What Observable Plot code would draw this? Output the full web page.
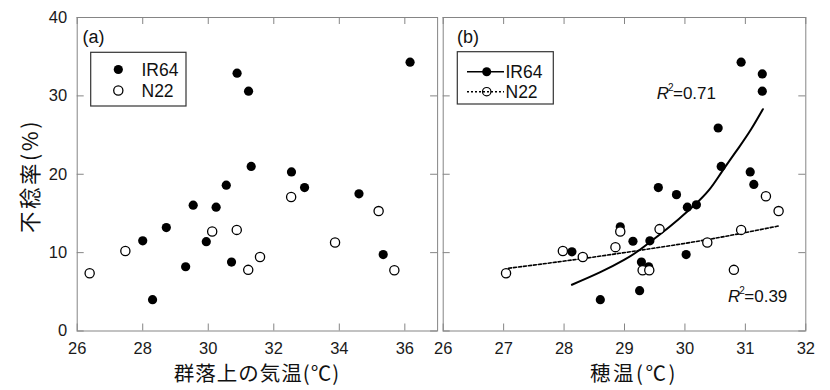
<!DOCTYPE html>
<html>
<head>
<meta charset="utf-8">
<script src="https://cdn.jsdelivr.net/npm/d3@7"></script>
<script src="https://cdn.jsdelivr.net/npm/@observablehq/plot@0.6"></script>
<style>
  html, body { margin: 0; padding: 0; background: #fff; }
  #chart { position: relative; width: 830px; height: 390px; overflow: hidden; }
  #chart .panel { position: absolute; top: 0; }
  #overlay { position: absolute; left: 0; top: 0; pointer-events: none; }
</style>
</head>
<body>
<div id="chart"></div>
<script>
// ---------- data ----------
// Panel (a): canopy air temperature (°C) vs sterility (%)
const aIR64x = [36.16, 30.88, 31.23, 31.31, 32.54, 30.55, 32.94, 34.6, 29.54, 30.24, 28.72, 28.0, 29.94, 30.71, 29.31, 35.34, 28.3];
const aIR64y = [34.3, 32.9, 30.6, 21.0, 20.3, 18.6, 18.3, 17.5, 16.05, 15.8, 13.2, 11.5, 11.4, 8.8, 8.2, 9.75, 4.0];
const aN22x = [32.53, 35.2, 30.12, 30.87, 27.47, 33.87, 31.58, 31.22, 35.68, 26.38];
const aN22y = [17.1, 15.3, 12.7, 12.9, 10.2, 11.3, 9.45, 7.8, 7.75, 7.37];

// Panel (b): panicle temperature (°C) vs sterility (%)
const bIR64x = [30.93, 31.28, 31.28, 30.55, 30.6, 31.08, 31.14, 29.56, 29.86, 30.04, 30.19, 28.93, 29.14, 29.42, 28.13, 30.02, 29.28, 29.4, 29.25, 28.6];
const bIR64y = [34.3, 32.8, 30.6, 25.9, 21.0, 20.3, 18.7, 18.3, 17.4, 15.8, 16.1, 13.3, 11.45, 11.5, 10.1, 9.75, 8.8, 8.2, 5.15, 4.0];
const bN22x = [31.34, 31.55, 29.58, 28.93, 30.93, 28.85, 27.98, 28.31, 30.37, 29.3, 29.41, 30.81, 27.04];
const bN22y = [17.2, 15.3, 13.0, 12.7, 12.9, 10.7, 10.2, 9.45, 11.3, 7.75, 7.75, 7.8, 7.37];

// fitted curves
const fitIR64x = [28.13, 28.6, 29.0, 29.26, 29.6, 29.9, 30.15, 30.4, 30.61, 30.9, 31.1, 31.29];
const fitIR64y = [5.9, 7.5, 9.1, 10.4, 12.4, 14.3, 16.0, 18.0, 20.3, 23.5, 25.8, 28.3];
const fitN22x = [27.08, 28.27, 29.3, 30.4, 31.55];
const fitN22y = [8.0, 9.2, 10.35, 11.7, 13.4];

// R² annotations
const r2Labels = ["0.71", "0.39"];
const r2x = [29.54, 30.72];
const r2y = [30.3, 4.4];

// ticks
const yTicks = [0, 10, 20, 30, 40];
const aXTicks = [26, 28, 30, 32, 34, 36];
const bXTicks = [26, 27, 28, 29, 30, 31, 32];

// labels
const yTitle = "不稔率(%)";
const aXTitle = "群落上の気温(℃)";
const bXTitle = "穂温(℃)";
const series = ["IR64", "N22"];

// ---------- helpers ----------
const zip = (xs, ys) => xs.map((x, i) => ({x, y: ys[i]}));
const A_IR64 = zip(aIR64x, aIR64y), A_N22 = zip(aN22x, aN22y);
const B_IR64 = zip(bIR64x, bIR64y), B_N22 = zip(bN22x, bN22y);
const FIT_IR64 = zip(fitIR64x, fitIR64y), FIT_N22 = zip(fitN22x, fitN22y);
const R2 = r2Labels.map((t, i) => ({t, x: r2x[i], y: r2y[i]}));

const FRAME = "#858585";
const TICKLEN = 7;
const H = 390, MT = 17, MB = 59.5;
const FH = H - MT - MB;
const numFont = "'Liberation Sans', Arial, sans-serif";
const cjkFont = "'Noto Sans CJK JP', sans-serif";
const intFmt = d3.format("d");

function inwardTicks(xt, fw) {
  return [
    Plot.tickX(xt, {x: d => d, stroke: FRAME, insetTop: FH - TICKLEN}),
    Plot.tickX(xt, {x: d => d, stroke: FRAME, insetBottom: FH - TICKLEN}),
    Plot.tickY(yTicks, {y: d => d, stroke: FRAME, insetRight: fw - TICKLEN}),
    Plot.tickY(yTicks, {y: d => d, stroke: FRAME, insetLeft: fw - TICKLEN})
  ];
}

// ---------- panel (a) ----------
const aW = 440, aML = 76.7, aMR = 2.9;
const plotA = Plot.plot({
  width: aW, height: H,
  marginLeft: aML, marginRight: aMR, marginTop: MT, marginBottom: MB,
  x: {domain: [26, 37]},
  y: {domain: [0, 40]},
  style: {background: "transparent", overflow: "visible", fontFamily: numFont, color: "#1a1a1a"},
  marks: [
    ...inwardTicks(aXTicks, aW - aML - aMR),
    Plot.frame({stroke: FRAME}),
    Plot.axisX({ticks: aXTicks, tickFormat: intFmt, tickSize: 0, tickPadding: 11, fontSize: 16.5, label: null}),
    Plot.axisY({ticks: yTicks, tickFormat: intFmt, tickSize: 0, tickPadding: 10, fontSize: 16.5, label: null}),
    Plot.dot(A_IR64, {x: "x", y: "y", r: 4.6, fill: "#000", stroke: "none"}),
    Plot.dot(A_N22, {x: "x", y: "y", r: 4.6, fill: "#fff", stroke: "#000", strokeWidth: 1.3})
  ]
});

// ---------- panel (b) ----------
const bLeft = 420, bW = 410, bML = 22.7, bMR = 24.7;
const plotB = Plot.plot({
  width: bW, height: H,
  marginLeft: bML, marginRight: bMR, marginTop: MT, marginBottom: MB,
  x: {domain: [26, 32]},
  y: {domain: [0, 40], axis: null},
  style: {background: "transparent", overflow: "visible", fontFamily: numFont, color: "#1a1a1a"},
  marks: [
    ...inwardTicks(bXTicks, bW - bML - bMR),
    Plot.frame({stroke: FRAME}),
    Plot.axisX({ticks: bXTicks, tickFormat: intFmt, tickSize: 0, tickPadding: 11, fontSize: 16.5, label: null}),
    Plot.line(FIT_N22, {x: "x", y: "y", stroke: "#000", strokeWidth: 1.6, strokeDasharray: "3,2", curve: "natural"}),
    Plot.line(FIT_IR64, {x: "x", y: "y", stroke: "#000", strokeWidth: 2, curve: "natural"}),
    Plot.dot(B_IR64, {x: "x", y: "y", r: 4.6, fill: "#000", stroke: "none"}),
    Plot.dot(B_N22, {x: "x", y: "y", r: 4.6, fill: "#fff", stroke: "#000", strokeWidth: 1.3})
  ]
});

const chart = document.getElementById("chart");
plotA.classList.add("panel"); plotA.style.left = "0px";
plotB.classList.add("panel"); plotB.style.left = bLeft + "px";
chart.appendChild(plotA);
chart.appendChild(plotB);

// ---------- overlay: legends, panel tags, axis titles, R² ----------
const svg = d3.select(chart).append("svg").attr("id", "overlay").attr("width", 830).attr("height", 390);

function txt(x, y, s, opts = {}) {
  return svg.append("text").attr("x", x).attr("y", y).attr("dominant-baseline", "central")
    .attr("font-family", opts.font || numFont).attr("font-size", opts.size || 17)
    .attr("text-anchor", opts.anchor || "start").attr("fill", "#111")
    .attr("letter-spacing", opts.spacing || null)
    .attr("transform", opts.transform || null).text(s);
}

// R² labels positioned through panel (b)'s scales
const sxB = plotB.scale("x"), syB = plotB.scale("y");
R2.forEach(d => {
  const t = svg.append("text")
    .attr("x", bLeft + sxB.apply(d.x)).attr("y", syB.apply(d.y) + 6)
    .attr("font-family", numFont).attr("font-size", 17).attr("fill", "#111");
  t.append("tspan").attr("font-style", "italic").text("R");
  t.append("tspan").attr("font-size", 10).attr("dx", -1).attr("dy", -8).text("2");
  t.append("tspan").attr("dy", 8).attr("dx", -0.5).text("=" + d.t);
});

// panel tags
txt(82.5, 37, "(a)", {size: 18});
txt(457, 37, "(b)", {size: 18});

// legend (a)
svg.append("rect").attr("x", 90.7).attr("y", 52.3).attr("width", 95.3).attr("height", 53.7)
  .attr("fill", "#fff").attr("stroke", "#333").attr("stroke-width", 1.2);
svg.append("circle").attr("cx", 118.3).attr("cy", 69.5).attr("r", 4.6).attr("fill", "#000");
svg.append("circle").attr("cx", 118.3).attr("cy", 90.5).attr("r", 4.6).attr("fill", "#fff").attr("stroke", "#000").attr("stroke-width", 1.3);
txt(141.5, 70, series[0], {size: 17.5});
txt(141.5, 91, series[1], {size: 17.5});

// legend (b)
svg.append("rect").attr("x", 457.3).attr("y", 51.7).attr("width", 96).attr("height", 52.3)
  .attr("fill", "#fff").attr("stroke", "#333").attr("stroke-width", 1.2);
svg.append("line").attr("x1", 467).attr("x2", 504).attr("y1", 71.7).attr("y2", 71.7).attr("stroke", "#000").attr("stroke-width", 1.6);
svg.append("circle").attr("cx", 486.7).attr("cy", 71.7).attr("r", 4.5).attr("fill", "#000");
svg.append("circle").attr("cx", 486.7).attr("cy", 91.7).attr("r", 4.2).attr("fill", "#fff").attr("stroke", "#000").attr("stroke-width", 1.2);
svg.append("line").attr("x1", 467).attr("x2", 504).attr("y1", 91.7).attr("y2", 91.7).attr("stroke", "#000").attr("stroke-width", 1.5).attr("stroke-dasharray", "2,2");
txt(505.5, 72, series[0], {size: 17.5});
txt(505.5, 92, series[1], {size: 17.5});

// axis titles
txt(257, 372, aXTitle, {font: cjkFont, size: 20.5, anchor: "middle", spacing: 1});
txt(634, 372, bXTitle, {font: cjkFont, size: 20.5, anchor: "middle", spacing: 2.5});
txt(0, 0, yTitle, {font: cjkFont, size: 21.5, anchor: "middle", spacing: 2.5, transform: "translate(28,176) rotate(-90)"});
</script>
</body>
</html>
